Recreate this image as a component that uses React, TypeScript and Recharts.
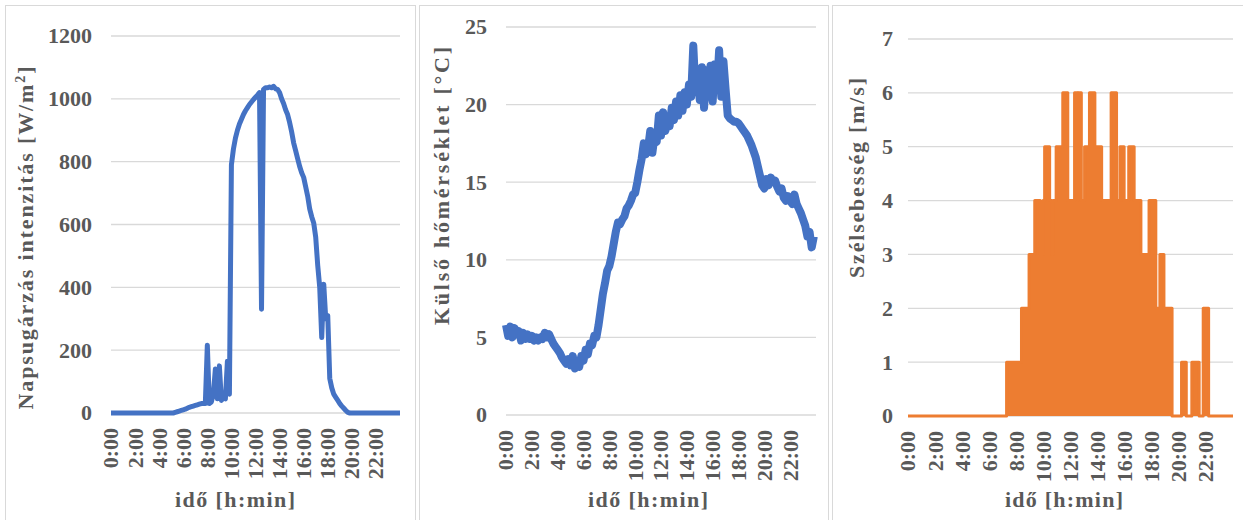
import React from 'react';
import { LineChart, Line, AreaChart, Area, XAxis, YAxis, CartesianGrid, Label } from 'recharts';

const HOUR_TICKS = [0, 2, 4, 6, 8, 10, 12, 14, 16, 18, 20, 22];
const SOLAR_TICKS = [0, 200, 400, 600, 800, 1000, 1200];
const TEMP_TICKS = [0, 5, 10, 15, 20, 25];
const WIND_TICKS = [0, 1, 2, 3, 4, 5, 6, 7];
const SAMPLE_MINUTES = 10;

// napsugárzás intenzitás [W/m2], one reading every 10 minutes from 0:00
const solarValues = [
  0, 0, 0, 0, 0, 0, // 0h
  0, 0, 0, 0, 0, 0,
  0, 0, 0, 0, 0, 0,
  0, 0, 0, 0, 0, 0,
  0, 0, 0, 0, 0, 0,
  0, 0, 2, 4, 6, 8, // 5h
  10, 12, 15, 18, 20, 22,
  24, 26, 28, 30, 30, 30,
  216, 30, 35, 60, 140, 45, // 8h
  150, 40, 50, 45, 165, 60,
  790, 840, 875, 900, 920, 935, // 10h
  950, 962, 972, 982, 990, 998,
  1005, 1012, 1020, 330, 1030, 1035, // 12h
  1035, 1038, 1035, 1040, 1032, 1030,
  1020, 1000, 985, 965, 950, 925, // 14h
  895, 860, 835, 810, 785, 765,
  750, 720, 690, 650, 625, 605, // 16h
  560, 470, 400, 240, 410, 300,
  310, 110, 80, 60, 50, 40, // 18h
  30, 22, 15, 8, 2, 0,
  0, 0, 0, 0, 0, 0, // 20h
  0, 0, 0, 0, 0, 0,
  0, 0, 0, 0, 0, 0,
  0, 0, 0, 0, 0, 0,
  0,
];

// külső hőmérséklet [°C], every 10 minutes (hi/lo of the noisy band)
const tempValues = [
  5.8, 5.1, 5.7, 5.0, 5.6, 5.2, // 0h
  5.4, 4.8, 5.3, 4.9, 5.2, 4.9,
  5.1, 4.8, 5.0, 4.8, 5.0, 4.9,
  5.3, 5.0, 5.2, 4.9, 4.6, 4.4,
  4.2, 4.0, 3.7, 3.5, 3.3, 3.6, // 4h
  3.2, 3.8, 3.0, 3.5, 3.1, 3.8,
  3.5, 4.2, 3.9, 4.6, 4.5, 5.1,
  5.0, 5.8, 6.8, 7.8, 8.5, 9.3,
  9.6, 10.2, 11.0, 11.8, 12.4, 12.3, // 8h
  12.6, 12.8, 13.3, 13.5, 13.8, 14.2,
  14.3, 15.0, 15.8, 16.5, 17.5, 16.8,
  17.2, 18.3, 16.9, 18.0, 17.6, 19.3,
  18.0, 19.5, 18.3, 19.0, 18.6, 19.8, // 12h
  19.0, 20.2, 19.3, 20.6, 19.6, 20.8,
  20.0, 21.3, 20.5, 23.8, 20.8, 22.0,
  20.3, 22.4, 19.8, 22.2, 20.5, 22.5,
  20.2, 22.6, 21.0, 23.5, 20.5, 22.8, // 16h
  21.0, 19.3, 19.1, 19.0, 18.9, 18.9,
  18.8, 18.6, 18.4, 18.2, 18.0, 17.7,
  17.4, 17.0, 16.6, 16.0, 15.4, 14.8,
  14.6, 15.2, 14.8, 15.3, 15.0, 15.1, // 20h
  14.7, 14.4, 14.6, 14.0, 13.8, 14.1,
  13.8, 13.6, 14.2, 13.6, 13.3, 13.0,
  12.6, 12.2, 11.5, 11.8, 10.8, 11.5,
];

// szélsebesség [m/s]: hour where the reading changes, and the new value
const windHours = [
  0, 7.28, 8.38, 8.94, 9.36, 9.77, 9.97, 10.09, 10.46, 10.62, 10.72, 10.94,
  11.43, 11.8, 12.3, 12.52, 12.58, 12.8, 13.04, 13.4, 13.8, 14.3, 15.0, 15.4,
  15.65, 15.96, 16.3, 16.7, 17.2, 17.8, 18.3, 18.6, 18.9, 19.5, 20.2, 20.55,
  20.96, 21.5, 21.8, 22.2, 24,
];
const windValues = [
  0, 1, 2, 3, 4, 3, 4, 5, 4, 3, 4, 5,
  6, 4, 6, 4, 6, 4, 5, 6, 5, 4, 6, 4,
  5, 4, 5, 4, 3, 4, 2, 3, 2, 0, 1, 0,
  1, 0, 2, 0, 0,
];

const solarData = solarValues.map((v, i) => ({ t: (i * SAMPLE_MINUTES) / 60, v }));
const tempData = tempValues.map((v, i) => ({ t: (i * SAMPLE_MINUTES) / 60, v }));
const windData = windHours.map((t, i) => ({ t, v: windValues[i] }));

const FONT = 'Liberation Serif';
const TEXT = '#595959';
const GRID = '#d9d9d9';
const BLUE = '#4472C4';
const ORANGE = '#ED7D31';
const textStyle: React.CSSProperties = { fontFamily: FONT, fontWeight: 700, fontSize: 22 };

const HourTick = (props: any) => {
  const { x, y, payload } = props;
  return (
    <text
      x={x}
      y={y}
      dx={-15}
      dy="0.34em"
      transform={`rotate(-90, ${x}, ${y})`}
      textAnchor="end"
      fill={TEXT}
      style={textStyle}
    >
      {`${payload.value}:00`}
    </text>
  );
};

// y tick: x is the tick's anchor point, text right-aligned there
const ValueTick = (props: any) => {
  const { x, y, payload } = props;
  return (
    <text x={x} y={y} dy="0.34em" textAnchor="end" fill={TEXT} style={textStyle}>
      {payload.value}
    </text>
  );
};

const xTitle = (cx: number, len: number) => (
  <Label
    content={() => (
      <text x={cx} y={501} textAnchor="middle" textLength={len} lengthAdjust="spacing" fill={TEXT} style={textStyle}>
        idő  [h:min]
      </text>
    )}
  />
);

const yTitle = (bx: number, cy: number, len: number, children: React.ReactNode) => (
  <Label
    content={() => (
      <text
        x={bx}
        y={cy}
        transform={`rotate(-90, ${bx}, ${cy})`}
        textAnchor="middle"
        textLength={len}
        lengthAdjust="spacing"
        fill={TEXT}
        style={textStyle}
      >
        {children}
      </text>
    )}
  />
);

const panel = (left: number, width: number): React.CSSProperties => ({
  position: 'absolute',
  left,
  top: 5,
  width,
  height: 530,
  border: `1px solid ${GRID}`,
  boxSizing: 'border-box',
  background: '#fff',
});

const xAxisProps = {
  dataKey: 't',
  type: 'number' as const,
  domain: [0, 24],
  ticks: HOUR_TICKS,
  interval: 0 as const,
  tick: <HourTick />,
  tickLine: false,
  axisLine: false,
  tickSize: 0,
  tickMargin: 0,
  height: 60,
};

const yAxisProps = {
  width: 60,
  interval: 0 as const,
  tick: <ValueTick />,
  tickLine: false,
  axisLine: false,
  tickSize: 0,
};

export default function App() {
  return (
    <div style={{ position: 'absolute', left: 0, top: 0, width: 1243, height: 520, overflow: 'hidden', background: '#fff' }}>
      <div style={panel(5, 411)}>
        <LineChart width={409} height={514} data={solarData} margin={{ top: 30, right: 15, left: 45, bottom: 47 }}>
          <CartesianGrid vertical={false} stroke={GRID} strokeWidth={1.3} />
          <XAxis {...xAxisProps}>{xTitle(229, 120)}</XAxis>
          <YAxis {...yAxisProps} domain={[0, 1200]} ticks={SOLAR_TICKS} tickMargin={19}>
            {yTitle(27, 232, 343, (
              <>
                Napsugárzás  intenzitás  [W/m
                <tspan fontSize={14} dy={-8}>2</tspan>
                <tspan dy={8}>]</tspan>
              </>
            ))}
          </YAxis>
          <Line dataKey="v" type="linear" stroke={BLUE} strokeWidth={5} dot={false} strokeLinejoin="round" isAnimationActive={false} />
        </LineChart>
      </div>

      <div style={panel(419, 410)}>
        <LineChart width={408} height={514} data={tempData} margin={{ top: 21, right: 12, left: 26, bottom: 45 }}>
          <CartesianGrid vertical={false} stroke={GRID} strokeWidth={1.3} />
          <XAxis {...xAxisProps}>{xTitle(228, 120)}</XAxis>
          <YAxis {...yAxisProps} domain={[0, 25]} ticks={TEMP_TICKS} tickMargin={19}>
            {yTitle(29, 180, 278, 'Külső  hőmérséklet [°C]')}
          </YAxis>
          <Line dataKey="v" type="linear" stroke={BLUE} strokeWidth={8} dot={false} strokeLinejoin="round" isAnimationActive={false} />
        </LineChart>
      </div>

      <div style={panel(832, 420)}>
        <AreaChart width={418} height={514} data={windData} margin={{ top: 33, right: 18, left: 15, bottom: 44 }}>
          <CartesianGrid vertical={false} stroke={GRID} strokeWidth={1.3} />
          <XAxis {...xAxisProps}>{xTitle(231, 118)}</XAxis>
          <YAxis {...yAxisProps} domain={[0, 7]} ticks={WIND_TICKS} tickMargin={15}>
            {yTitle(31, 172, 200, 'Szélsebesség [m/s]')}
          </YAxis>
          <Area dataKey="v" type="stepAfter" stroke={ORANGE} strokeWidth={3} fill={ORANGE} fillOpacity={1} strokeLinejoin="round" isAnimationActive={false} />
        </AreaChart>
      </div>
    </div>
  );
}
